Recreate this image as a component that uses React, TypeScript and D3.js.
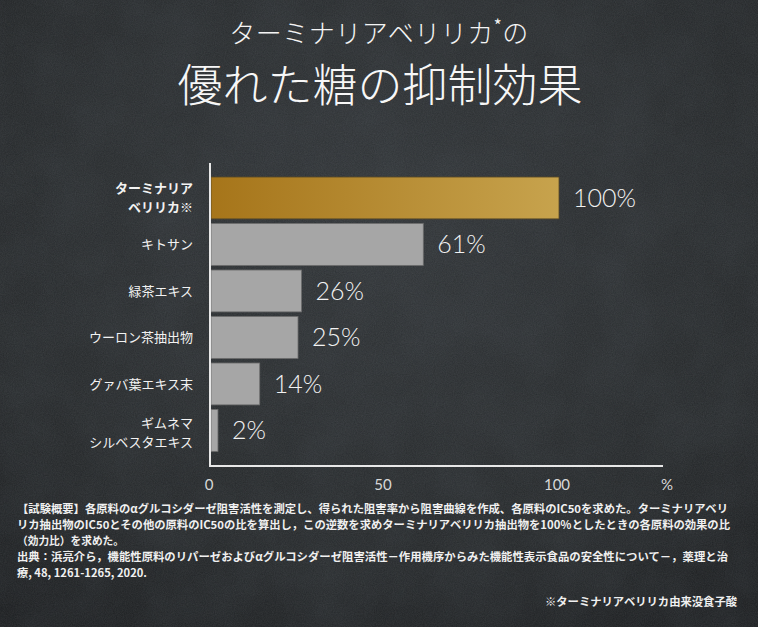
import React from "react";
import * as d3 from "d3";

const categoryLines: string[][] = [
  ["ターミナリア", "ベリリカ※"],
  ["キトサン"],
  ["緑茶エキス"],
  ["ウーロン茶抽出物"],
  ["グァバ葉エキス末"],
  ["ギムネマ", "シルベスタエキス"],
];
const values: number[] = [100, 61, 26, 25, 14, 2];
const xTicks: number[] = [0, 50, 100];
const unitLabel = "%";
const titleLine1 = "ターミナリアベリリカ";
const titleLine1Tail = "の";
const titleLine2 = "優れた糖の抑制効果";
const footnoteLines: string[] = [
  "【試験概要】各原料のαグルコシダーゼ阻害活性を測定し、得られた阻害率から阻害曲線を作成、各原料のIC50を求めた。ターミナリアベリ",
  "リカ抽出物のIC50とその他の原料のIC50の比を算出し，この逆数を求めターミナリアベリリカ抽出物を100％としたときの各原料の効果の比",
  "（効力比）を求めた。",
  "出典：浜亮介ら，機能性原料のリパーゼおよびαグルコシダーゼ阻害活性－作用機序からみた機能性表示食品の安全性について－，薬理と治",
  "療, 48, 1261-1265, 2020.",
];
const footnoteWidths: number[] = [711, 713, 107, 711, 130];
const sourceNote = "※ターミナリアベリリカ由来没食子酸";

const W = 758;
const H = 627;
const CJK = "'Noto Sans CJK JP', 'Noto Sans', sans-serif";
const NUM = "Lato, 'Open Sans', sans-serif";

export default function App() {
  const x = d3.scaleLinear().domain([0, 100]).range([211, 559]);
  const y = d3
    .scaleBand<number>()
    .domain(d3.range(values.length))
    .range([174.7, 453.7])
    .paddingInner(0.1)
    .paddingOuter(0.05);
  const bw = y.bandwidth();

  return (
    <svg
      width={W}
      height={H}
      viewBox={`0 0 ${W} ${H}`}
      style={{ position: "absolute", left: 0, top: 0, display: "block" }}
    >
      <defs>
        <linearGradient id="gold" x1="0" x2="1" y1="0" y2="0">
          <stop offset="0%" stopColor="#a6751a" />
          <stop offset="100%" stopColor="#c7a34d" />
        </linearGradient>
        <radialGradient id="bg" cx="0.5" cy="0.35" r="0.8">
          <stop offset="0%" stopColor="#313538" />
          <stop offset="70%" stopColor="#25282a" />
          <stop offset="100%" stopColor="#1b1d1f" />
        </radialGradient>
        <filter id="noise" x="0" y="0" width="100%" height="100%">
          <feTurbulence type="fractalNoise" baseFrequency="0.9" numOctaves="3" seed="4" />
          <feColorMatrix
            type="matrix"
            values="0 0 0 0 0.6  0 0 0 0 0.62  0 0 0 0 0.64  0 0 0 0.22 0"
          />
        </filter>
        <filter id="noise2" x="0" y="0" width="100%" height="100%">
          <feTurbulence type="fractalNoise" baseFrequency="0.02" numOctaves="4" seed="9" />
          <feColorMatrix
            type="matrix"
            values="0 0 0 0 0.05  0 0 0 0 0.06  0 0 0 0 0.07  0 0 0 0.6 -0.15"
          />
        </filter>
      </defs>

      <rect width={W} height={H} fill="url(#bg)" />
      <rect width={W} height={H} filter="url(#noise2)" opacity={0.6} />
      <rect width={W} height={H} filter="url(#noise)" opacity={0.5} />

      {/* titles */}
      <text
        x={W / 2}
        y={43}
        textAnchor="middle"
        fill="#f4f4f4"
        fontFamily={CJK}
        fontWeight={300}
        fontSize={26}
        letterSpacing={0.5}
      >
        {titleLine1}
        <tspan fontSize={17} fontWeight={400} dy={-11}>*</tspan>
        <tspan dy={11}>{titleLine1Tail}</tspan>
      </text>
      <text
        x={W / 2 + 1}
        y={102}
        textAnchor="middle"
        fill="#f7f7f7"
        fontFamily={CJK}
        fontWeight={300}
        fontSize={45}
      >
        {titleLine2}
      </text>

      {/* bars */}
      {values.map((v, i) => (
        <rect
          key={i}
          x={x(0)}
          y={y(i)}
          width={x(v) - x(0)}
          height={bw}
          fill={i === 0 ? "url(#gold)" : "#a6a6a6"}
          stroke={i === 0 ? "#5b4a26" : "#6e6e6e"}
          strokeWidth={0.8}
        />
      ))}

      {/* value labels */}
      {values.map((v, i) => (
        <text
          key={i}
          x={x(v) + 14}
          y={(y(i) as number) + bw / 2}
          dy="0.36em"
          fill="#f2f2f2"
          fontFamily={NUM}
          fontWeight={300}
          fontSize={25}
        >
          {v}%
        </text>
      ))}

      {/* category labels */}
      {categoryLines.map((lines, i) => {
        const cy = (y(i) as number) + bw / 2 + (i === 5 ? 2 : 0);
        const lh = 19;
        const start = cy - ((lines.length - 1) * lh) / 2;
        return lines.map((l, j) => (
          <text
            key={`${i}-${j}`}
            x={193}
            y={start + j * lh}
            dy="0.36em"
            textAnchor="end"
            fill="#f2f2f2"
            fontFamily={CJK}
            fontWeight={i === 0 ? 700 : 400}
            fontSize={13}
          >
            {l}
          </text>
        ));
      })}

      {/* axes */}
      <line x1={210} x2={210} y1={163} y2={466} stroke="#e8e8e8" strokeWidth={2} />
      <line x1={209} x2={663} y1={466} y2={466} stroke="#e8e8e8" strokeWidth={2} />
      {xTicks.map((t) => (
        <text
          key={t}
          x={x(t) - 2}
          y={490}
          textAnchor="middle"
          fill="#d8d8d8"
          fontFamily={NUM}
          fontSize={15}
        >
          {t}
        </text>
      ))}
      <text x={667} y={490} textAnchor="middle" fill="#d8d8d8" fontFamily={NUM} fontSize={15}>
        {unitLabel}
      </text>

      {/* footnotes */}
      {footnoteLines.map((l, i) => (
        <text
          key={i}
          x={17}
          y={513 + i * 16}
          fill="#f0f0f0"
          fontFamily={CJK}
          fontWeight={700}
          fontSize={11}
          textLength={footnoteWidths[i]}
          lengthAdjust="spacingAndGlyphs"
        >
          {l}
        </text>
      ))}
      <text
        x={737}
        y={606}
        textAnchor="end"
        fill="#f0f0f0"
        fontFamily={CJK}
        fontWeight={700}
        fontSize={11}
        textLength={192}
        lengthAdjust="spacingAndGlyphs"
      >
        {sourceNote}
      </text>
    </svg>
  );
}
